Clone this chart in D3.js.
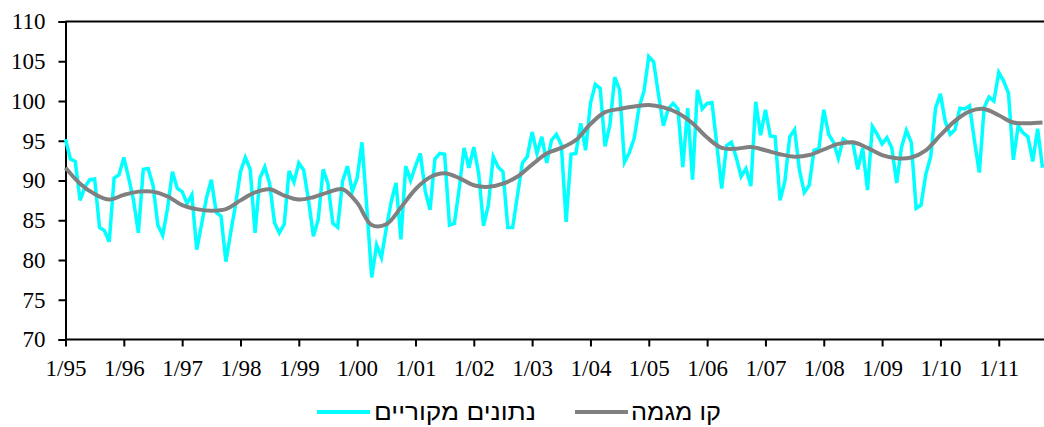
<!DOCTYPE html>
<html>
<head>
<meta charset="utf-8">
<style>
  body { margin: 0; background: #fff; }
  svg text { font-family: "Liberation Serif", "Times New Roman", serif; fill: #000; }
  .legend-text { font-family: "Liberation Sans", Arial, sans-serif; }
</style>
<script src="https://d3js.org/d3.v7.min.js"></script>
</head>
<body>
<div id="chart"></div>
<script>
// monthly index: 0 = 1/95
var original = [
  95.2, 92.7, 92.4, 87.5, 89.2, 90.1, 90.2, 84.1, 83.7, 82.3, 90.3, 90.7,
  92.9, 90.3, 87.5, 83.4, 91.4, 91.5, 89.4, 84.4, 83.1, 86.5, 91.1, 89.0,
  88.6, 87.1, 88.2, 81.3, 84.5, 87.8, 90.1, 86.0, 85.5, 79.8, 83.5, 87.0,
  91.1, 92.9, 91.4, 83.4, 90.3, 91.7, 89.6, 84.7, 83.4, 84.5, 91.2, 89.8,
  92.2, 91.3, 87.5, 83.0, 85.1, 91.4, 89.6, 84.6, 84.1, 89.9, 91.8, 88.6,
  90.3, 94.8, 86.5, 77.8, 81.9, 80.3, 84.0, 87.3, 89.7, 82.6, 91.8, 90.0,
  91.8, 93.4, 88.7, 86.3, 92.7, 93.4, 93.3, 84.4, 84.6, 89.0, 94.1, 91.6,
  94.2, 90.9, 84.3, 86.9, 93.0, 91.7, 91.1, 84.1, 84.1, 88.2, 92.2, 93.0,
  96.1, 93.4, 95.5, 92.2, 95.1, 95.8, 94.5, 84.8, 93.3, 93.4, 97.2, 93.8,
  99.7, 102.1, 101.6, 94.3, 97.0, 103.0, 101.4, 92.3, 93.5, 95.3, 99.2, 101.2,
  105.6, 104.9, 100.8, 96.9, 99.0, 99.7, 99.0, 91.7, 99.1, 90.1, 101.4, 99.0,
  99.7, 99.8, 94.5, 89.0, 94.4, 94.8, 92.9, 90.5, 91.5, 89.3, 99.9, 95.7,
  98.9, 95.6, 95.5, 87.5, 89.9, 95.5, 96.4, 91.3, 88.5, 89.4, 93.8, 94.0,
  98.9, 95.8, 94.8, 92.8, 95.2, 94.8, 94.7, 91.4, 94.1, 88.8, 96.8, 95.8,
  94.6, 95.4, 94.1, 89.7, 94.2, 96.3, 94.8, 86.5, 86.9, 90.8, 93.0, 99.1,
  100.9, 97.4, 95.8, 96.4, 99.1, 99.0, 99.4, 95.0, 91.0, 99.2, 100.5, 100.0,
  103.6, 102.5, 101.0, 92.6, 96.9, 96.0, 95.5, 92.4, 96.5, 91.6
];

// trend line, one value every 3 months starting 1/95
var trend = [
  91.6, 89.6, 88.3, 87.6, 88.2, 88.6, 88.6, 88.0, 86.9, 86.4, 86.2, 86.4,
  87.5, 88.5, 88.9, 88.1, 87.6, 87.9, 88.5, 88.9, 87.2, 84.4, 84.5, 86.6,
  88.9, 90.4, 90.9, 90.3, 89.4, 89.2, 89.6, 90.5, 92.0, 93.4, 94.1, 95.1,
  97.1, 98.6, 99.0, 99.3, 99.5, 99.2, 98.5, 97.2, 95.4, 94.1, 94.0, 94.2,
  93.8, 93.3, 93.0, 93.2, 93.9, 94.6, 94.8, 94.1, 93.2, 92.8, 92.9, 93.8,
  95.7, 97.5, 98.7, 99.0, 98.2, 97.3, 97.2, 97.3
];
var trendStep = 3;

var yTicks = [70, 75, 80, 85, 90, 95, 100, 105, 110];
var xTickLabels = ["1/95", "1/96", "1/97", "1/98", "1/99", "1/00", "1/01", "1/02",
  "1/03", "1/04", "1/05", "1/06", "1/07", "1/08", "1/09", "1/10", "1/11"];

var seriesNames = ["נתונים מקוריים", "קו מגמה"];
var seriesColors = ["#00ffff", "#808080"];

var width = 1044, height = 427;

var svg = d3.select("#chart").append("svg")
  .attr("width", width)
  .attr("height", height);

var x = d3.scaleLinear().domain([0, original.length - 1]).range([65.5, 1042.5]);
var y = d3.scaleLinear().domain([70, 110]).range([339.5, 21.5]);

// top frame line
svg.append("line")
  .attr("x1", x(0)).attr("x2", width)
  .attr("y1", y(110)).attr("y2", y(110))
  .attr("stroke", "#000").attr("stroke-width", 2);

// y axis
var yAxis = svg.append("g")
  .attr("transform", "translate(" + x(0) + ",0)")
  .call(d3.axisLeft(y).tickValues(yTicks).tickSize(7).tickPadding(13).tickFormat(d3.format("d")));

// x axis
var xAxis = svg.append("g")
  .attr("transform", "translate(0," + y(70) + ")")
  .call(d3.axisBottom(x)
    .tickValues(xTickLabels.map(function (d, i) { return i * 12; }))
    .tickSize(7).tickPadding(13)
    .tickFormat(function (d) { return xTickLabels[d / 12]; }));

[yAxis, xAxis].forEach(function (g) {
  g.select(".domain").attr("stroke", "#000").attr("stroke-width", 2);
  g.selectAll(".tick line").attr("stroke", "#000").attr("stroke-width", 2);
  g.selectAll("text").attr("font-size", 23).attr("font-family", "Liberation Serif").attr("fill", "#000");
});
xAxis.select(".domain").attr("d", "M" + x(0) + ",0H" + width);

// lines
var origLine = d3.line()
  .x(function (d, i) { return x(i); })
  .y(function (d) { return y(d); });

var trendLine = d3.line()
  .x(function (d, i) { return x(i * trendStep); })
  .y(function (d) { return y(d); })
  .curve(d3.curveCatmullRom);

svg.append("path")
  .datum(original)
  .attr("fill", "none")
  .attr("stroke", seriesColors[0])
  .attr("stroke-width", 3.5)
  .attr("stroke-linejoin", "miter")
  .attr("d", origLine);

svg.append("path")
  .datum(trend)
  .attr("fill", "none")
  .attr("stroke", seriesColors[1])
  .attr("stroke-width", 4)
  .attr("d", trendLine);

// legend
var legendItems = [
  { name: seriesNames[0], color: seriesColors[0], x1: 317, x2: 370, tx: 536, w: 162 },
  { name: seriesNames[1], color: seriesColors[1], x1: 575, x2: 628, tx: 721, w: 90 }
];
var legend = svg.append("g").attr("transform", "translate(0,412)");
legendItems.forEach(function (d) {
  legend.append("line")
    .attr("x1", d.x1).attr("x2", d.x2)
    .attr("stroke", d.color).attr("stroke-width", 4);
  legend.append("text")
    .attr("class", "legend-text")
    .attr("x", d.tx)
    .attr("y", 8)
    .attr("text-anchor", "end")
    .attr("font-size", 24)
    .attr("textLength", d.w)
    .attr("lengthAdjust", "spacingAndGlyphs")
    .text(d.name);
});
</script>
</body>
</html>
